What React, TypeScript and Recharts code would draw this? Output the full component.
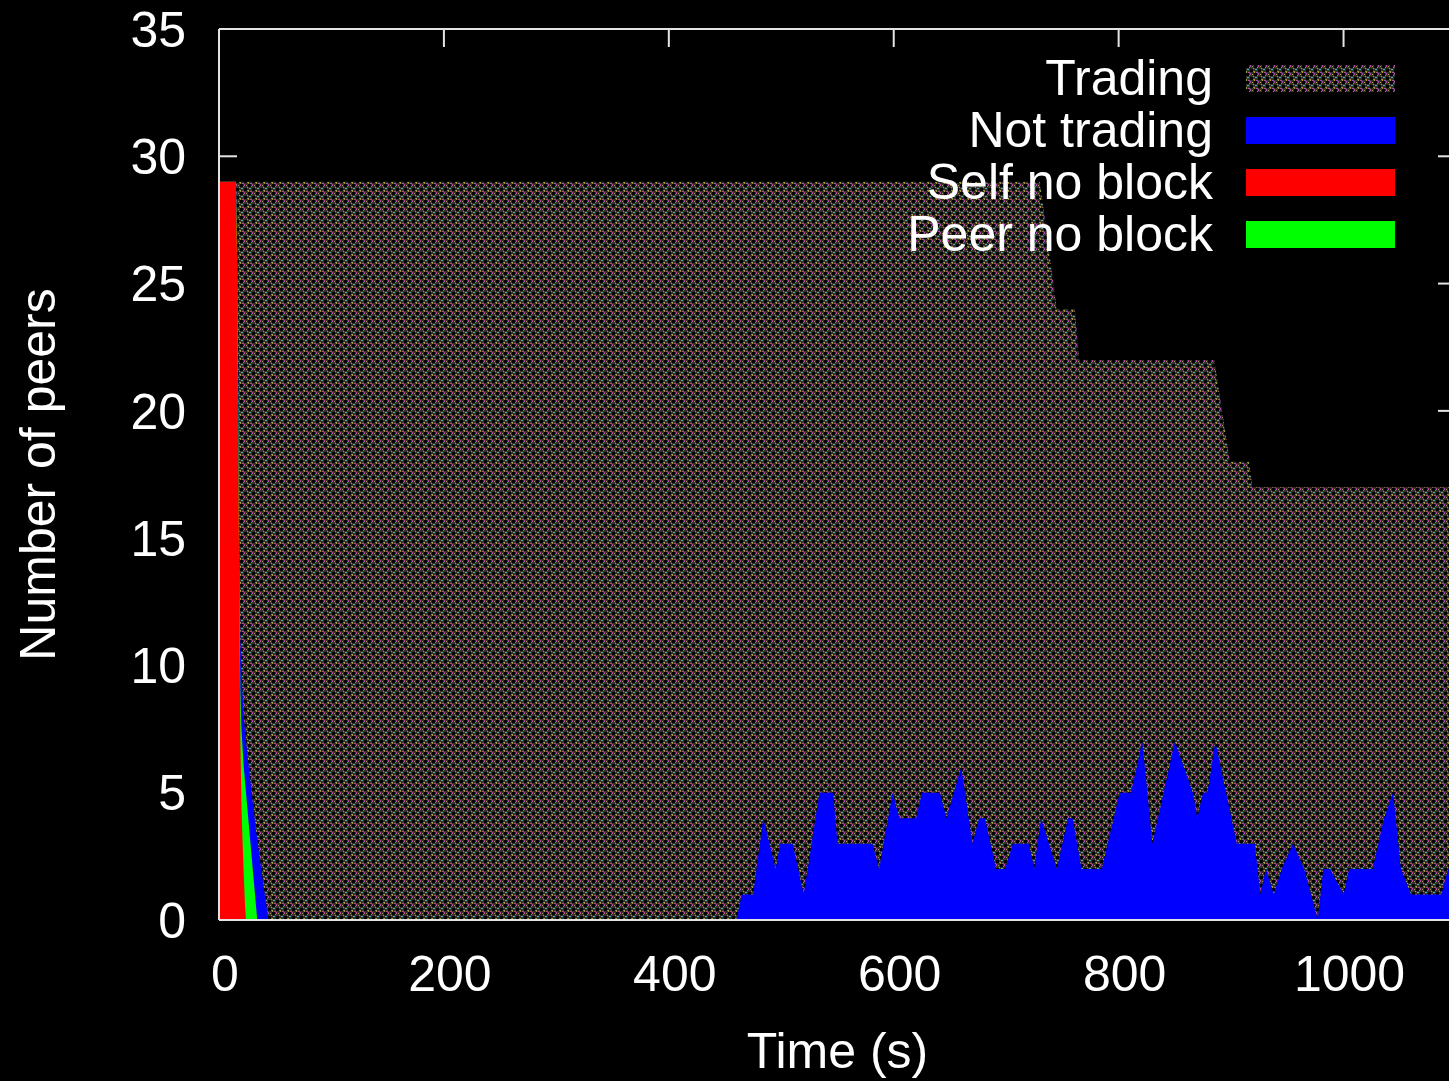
import React from 'react';
import { ComposedChart, Area, XAxis, YAxis, Legend, Label } from 'recharts';

const FONT = '"Liberation Sans", Arial, Helvetica, sans-serif';
const FRAME = '#e4e4e4';

const xTicks = [0, 200, 400, 600, 800, 1000];
const yTicks = [0, 5, 10, 15, 20, 25, 30, 35];
// tick marks that are not hidden behind the filled areas
const leftTickMarks = [30, 35];
const rightTickMarks = [20, 25, 30, 35];

const seriesNames = ['Trading', 'Not trading', 'Self no block', 'Peer no block'];
const seriesFills = ['url(#tradingTexture)', '#0000ff', '#ff0000', '#00ff00'];

// upper edge of each coloured band
const tradingTimes = [0, 730, 745, 761, 765, 885, 899, 916, 919, 1100];
const tradingTop = [29, 29, 24, 24, 22, 22, 18, 18, 17, 17];

const notTradingTimes = [
  0, 15, 16, 17, 18, 19, 20, 22, 24, 26, 28, 30, 33, 36, 40, 44,
  460, 465, 475, 484, 495, 499, 510, 520, 534, 546, 550, 581, 587, 599, 605, 620,
  625, 641, 647, 660, 670, 676, 681, 691, 699, 706, 720, 725, 731, 745, 755, 759,
  767, 785, 801, 811, 821, 830, 850, 866, 870, 875, 879, 886, 905, 921, 926, 931,
  938, 945, 955, 965, 977, 982, 988, 1000, 1005, 1026, 1036, 1044, 1051, 1060, 1087, 1093, 1100,
];
const notTradingTop = [
  29, 29, 27.5, 22, 15.5, 11, 9.6, 8, 7, 6.2, 5.4, 4.6, 3.5, 2.5, 1.2, 0,
  0, 1, 1, 4, 2, 3, 3, 1, 5, 5, 3, 3, 2, 5, 4, 4,
  5, 5, 4, 6, 3, 4, 4, 2, 2, 3, 3, 2, 4, 2, 4, 4,
  2, 2, 5, 5, 7, 3, 7, 5, 4, 5, 5, 7, 3, 3, 1, 2,
  1, 2, 3, 2, 0, 2, 2, 1, 2, 2, 4, 5, 2, 1, 1, 2, 2,
];

const peerTimes = [0, 15, 16, 17, 18, 19, 20, 22, 24, 26, 28, 30, 32, 34];
const peerTop = [29, 29, 27, 21, 14, 9, 7.5, 6, 5, 4, 3, 2, 1, 0];

const selfTimes = [0, 15, 16, 17, 18, 19, 20, 21, 22, 23, 24];
const selfTop = [29, 29, 26, 19.4, 12.8, 7, 4.4, 3, 1.8, 0.7, 0];

const toPoints = (times: number[], values: number[]) =>
  times.map((time, i) => ({ time, value: values[i] }));

// trading band is tied to the top axis so that axis gets its domain from data
const bands = [
  { name: seriesNames[0], fill: seriesFills[0], axis: 'top', data: toPoints(tradingTimes, tradingTop) },
  { name: seriesNames[1], fill: seriesFills[1], axis: 'bottom', data: toPoints(notTradingTimes, notTradingTop) },
  { name: seriesNames[3], fill: seriesFills[3], axis: 'bottom', data: toPoints(peerTimes, peerTop) },
  { name: seriesNames[2], fill: seriesFills[2], axis: 'bottom', data: toPoints(selfTimes, selfTop) },
];

const NoTick = () => <g />;

const renderLegend = () => (
  <div style={{ fontFamily: FONT, fontSize: 50, color: '#fff' }}>
    {seriesNames.map((name, i) => (
      <div key={name} style={{ display: 'flex', alignItems: 'center', height: 52, lineHeight: '52px' }}>
        <span style={{ width: 333, textAlign: 'right', whiteSpace: 'nowrap' }}>{name}</span>
        <svg width={149} height={27} style={{ marginLeft: 33 }}>
          <rect width={149} height={27} fill={seriesFills[i]} />
        </svg>
      </div>
    ))}
  </div>
);

const App: React.FC = () => {
  const tickStyle = { fill: '#fff', fontSize: 50, fontFamily: FONT };
  const frameLine = { stroke: FRAME, strokeWidth: 2 };
  return (
    <div style={{ position: 'absolute', left: 0, top: 0, width: 1449, height: 1081, overflow: 'hidden', background: '#000' }}>
      <ComposedChart width={1480} height={1081} margin={{ top: 0, right: 0, bottom: 0, left: 0 }}>
        <defs>
          <pattern id="tradingTexture" width="8" height="8" patternUnits="userSpaceOnUse">
            <rect width="8" height="8" fill="#34322a" />
            <rect x="0" y="0" width="3" height="3" fill="#000" />
            <rect x="4" y="4" width="3" height="3" fill="#000" />
            <rect x="4" y="0" width="1" height="2" fill="#b04ab0" />
            <rect x="6" y="1" width="1" height="1" fill="#9a9a38" />
            <rect x="1" y="4" width="2" height="1" fill="#40b0b0" />
            <rect x="3" y="2" width="1" height="1" fill="#8c8c30" />
            <rect x="0" y="6" width="1" height="2" fill="#9a9a34" />
            <rect x="7" y="6" width="1" height="1" fill="#48a048" />
            <rect x="2" y="7" width="2" height="1" fill="#b048a8" />
            <rect x="7" y="3" width="1" height="1" fill="#40b0b0" />
          </pattern>
        </defs>
        <XAxis
          xAxisId="bottom"
          dataKey="time"
          type="number"
          domain={[0, 1100]}
          ticks={xTicks}
          interval={0}
          allowDataOverflow
          height={161}
          tickSize={0}
          tickMargin={35}
          tickLine={false}
          axisLine={frameLine}
          tick={{ ...tickStyle, dx: 6 }}
        >
          <Label value="Time (s)" position="insideBottom" offset={13} fill="#fff" fontSize={50} fontFamily={FONT} />
        </XAxis>
        <XAxis
          xAxisId="top"
          orientation="top"
          dataKey="time"
          type="number"
          domain={[0, 1100]}
          ticks={xTicks}
          interval={0}
          allowDataOverflow
          height={29}
          tick={NoTick}
          tickSize={-18}
          axisLine={frameLine}
          tickLine={frameLine}
        />
        <YAxis
          type="number"
          domain={[0, 35]}
          ticks={yTicks}
          interval={0}
          allowDataOverflow
          width={219}
          tickSize={-18}
          tickMargin={51}
          axisLine={frameLine}
          tickLine={false}
          tick={tickStyle}
        >
          <Label value="Number of peers" angle={-90} position="center" dx={-72} fill="#fff" fontSize={50} fontFamily={FONT} />
        </YAxis>
        <YAxis
          yAxisId="leftMarks"
          mirror
          type="number"
          domain={[0, 35]}
          ticks={leftTickMarks}
          interval={0}
          allowDataOverflow
          width={1}
          tick={NoTick}
          tickSize={18}
          axisLine={false}
          tickLine={frameLine}
        />
        <YAxis
          yAxisId="right"
          orientation="right"
          type="number"
          domain={[0, 35]}
          ticks={rightTickMarks}
          interval={0}
          allowDataOverflow
          width={24}
          tick={NoTick}
          tickSize={-18}
          axisLine={frameLine}
          tickLine={frameLine}
        />
        {bands.map((b) => (
          <Area
            key={b.name}
            name={b.name}
            xAxisId={b.axis}
            data={b.data}
            dataKey="value"
            type="linear"
            fill={b.fill}
            fillOpacity={1}
            stroke="none"
            dot={false}
            activeDot={false}
            isAnimationActive={false}
          />
        ))}
        <Legend
          layout="vertical"
          align="center"
          verticalAlign="middle"
          content={renderLegend}
          wrapperStyle={{ left: 880, top: 52, width: 540, height: 210 }}
        />
      </ComposedChart>
    </div>
  );
};

export default App;
